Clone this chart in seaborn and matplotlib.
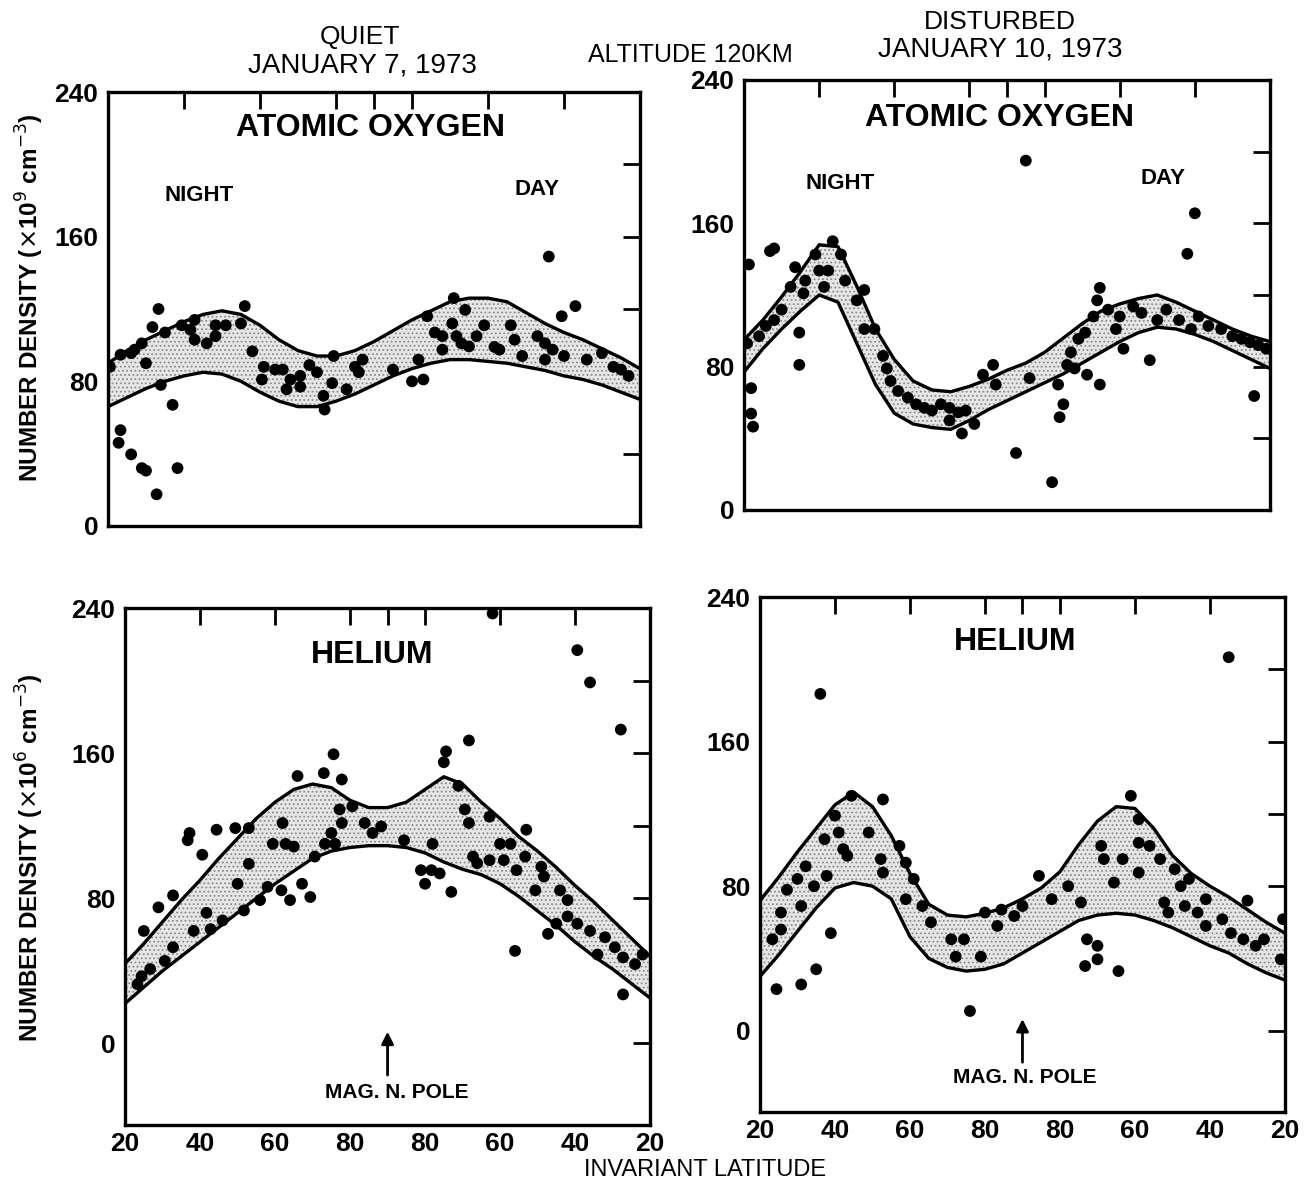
import numpy as np
import pandas as pd
import matplotlib
matplotlib.use("Agg")
import matplotlib.pyplot as plt
import seaborn as sns

# x = distance along the pass: 0 -> 20 deg (night), 70 -> magnetic pole, 140 -> 20 deg (day)
grid = np.arange(0, 145, 5)
xticks = [0, 20, 40, 60, 70, 80, 100, 120, 140]
xlabels = ["20", "40", "60", "80", "", "80", "60", "40", "20"]

# atomic oxygen, quiet day (Jan 7 1973)
oq_up = [90, 97, 103, 108, 113, 117, 119, 117, 111, 103, 97, 94, 94, 97, 102,
         108, 114, 119, 124, 126, 126, 124, 118, 112, 107, 103, 98, 93, 87]
oq_lo = [66, 71, 76, 80, 83, 85, 84, 80, 74, 69, 66, 66, 69, 73, 78,
         83, 87, 90, 92, 92, 91, 90, 88, 86, 83, 81, 78, 74, 70]
oq_s = [0.5, 3.3, 6.1, 8.9, 10, 13.3, 11.7, 15, 13.9, 17, 3.3, 2.8, 6.1, 8.9, 10, 18.3, 12.8,
        19.4, 21.7, 22.8, 26, 28.3, 28.3, 31, 36, 35, 38, 41, 40.5, 44, 46, 47, 48, 50.6, 50.6,
        53, 55, 56.7, 57, 59.4, 59, 62.8, 65, 66, 67, 75, 80, 83, 81.7, 84, 90.6, 88, 91, 94,
        91.7, 95, 99, 97, 101.7, 103, 106, 107, 109, 113, 115, 115, 117, 119.4, 123, 116, 120,
        126, 130, 133, 135, 137, 7, 22.8, 86, 88, 93]
oq_v = [88, 94.7, 95.6, 101, 90, 120, 110, 107, 78, 67, 53, 46, 39.6, 32, 30.6, 32, 17.5,
        111, 108.5, 114, 101, 105, 111, 111, 121.6, 112, 96.6, 88, 81, 86.5, 86.5, 75.6, 81, 83, 77,
        89, 85, 72, 64.4, 94, 79, 75.6, 88, 85, 92, 86.5, 80, 81, 92, 116, 112, 105, 126, 119.5,
        105, 99.3, 111, 105, 99, 97.5, 111, 103, 94, 105, 101, 92, 97.5, 116, 121.6, 149, 94,
        92, 95.6, 88, 86.5, 83, 97.5, 103, 107, 97.5, 101]

# atomic oxygen, disturbed day (Jan 10 1973)
od_up = [95, 106, 119, 133, 148, 147, 125, 101, 84, 72, 67, 66, 69, 73, 78,
         82, 88, 96, 104, 111, 115, 118, 120, 116, 111, 106, 101, 97, 94]
od_lo = [77, 90, 101, 111, 120, 116, 93, 70, 54, 48, 46, 45, 50, 56, 61,
         66, 71, 76, 82, 88, 94, 99, 102, 101, 98, 94, 89, 84, 79]
od_s = [1.3, 6.9, 8, 0.8, 1.9, 1.9, 2.4, 4, 5.8, 8, 10, 14.7, 14.7, 12.4, 13.6, 16.3, 15.8,
        19, 20, 22.4, 21.3, 23.6, 25.8, 26.9, 30, 32, 32, 34.7, 37, 38, 39, 41, 43.6, 45.8, 48,
        50, 52.4, 54.7, 57, 59, 58, 54.7, 61.3, 63.6, 66.3, 67, 72.4, 76, 75, 82, 83.6, 84, 85,
        86, 87, 88, 89, 90.8, 91.3, 94.7, 93, 94, 94.7, 96.9, 99, 100, 101, 103.6, 105.8, 108,
        110, 112.4, 115.8, 118, 120, 119, 121, 123.6, 127, 130, 132.4, 134.7, 136.9, 135.8, 139]
od_v = [137, 144.5, 146, 93, 68, 53.8, 46.5, 97, 102.7, 106, 111.8, 81, 99, 124.5, 135.5, 128, 120.9,
        142.6, 133.6, 133.6, 124.5, 150, 142.6, 128, 117, 122.8, 101, 101, 86, 79, 72, 66.4, 62.7, 59, 57,
        55.5, 59, 57, 54.5, 55.5, 42.7, 50, 48, 75.5, 81, 70, 31.8, 73.6, 195, 15.5, 70, 51.8, 59,
        81, 88, 79, 95.5, 99, 75.5, 70, 108, 117, 124, 111.8, 101, 108, 90, 113.6, 110, 83.6,
        106, 111.8, 106, 143, 165.6, 101, 108, 102.7, 101, 97, 95.5, 93.6, 92, 63.6, 90]

# helium, quiet day
hq_up = [44, 55, 67, 79, 90, 102, 113, 124, 133, 140, 143, 141, 134, 130, 130,
         133, 140, 147, 143, 133, 124, 114, 106, 97, 87, 78, 68, 58, 48]
hq_lo = [22, 31, 40, 48, 56, 64, 72, 80, 88, 95, 102, 106, 108, 109, 109,
         108, 105, 100, 96, 93, 88, 81, 73, 65, 56, 48, 41, 33, 25]
hq_s = [5, 8.9, 12.8, 16.7, 17.2, 20.6, 24.4, 29.4, 33, 33, 30, 21.7, 18.3, 22.8, 12.8, 10.6,
        6.7, 4.4, 3.3, 26, 31.7, 36, 38, 41.7, 42, 39.4, 42.8, 45, 46, 47.2, 44, 49.4, 50.6, 53,
        55.6, 57.8, 53.3, 55, 57.2, 57.8, 56, 60.6, 63.9, 66, 68.3, 74.4, 78.9, 80, 81.7, 83.9, 82,
        85, 85.6, 87, 88.9, 90.6, 91.7, 91.7, 92.8, 93.9, 97.2, 97.2, 100, 101, 102.8, 104.4, 104,
        107, 106.7, 109.4, 111, 111.7, 112.8, 115, 116, 118, 118, 120.6, 120.6, 124, 124, 126,
        128, 130.6, 132.2, 132.8, 132.8, 136, 138, 98]
hq_v = [62, 75, 81.6, 112, 116, 104, 117.8, 118.7, 118.7, 99, 88, 72, 62, 63, 53, 45.5,
        41, 37, 32.6, 67.8, 73.3, 79, 86.3, 84.4, 121.5, 110, 110, 108.5, 147.4, 88, 79, 80.7, 103, 149,
        159.4, 145.5, 110, 116, 129, 121.5, 110, 130.7, 121.5, 116, 119.6, 112, 95.5, 88, 95.5, 93.7, 110,
        155, 161, 83.5, 142, 129, 121.5, 167, 103, 99.3, 101, 125, 110, 101, 110, 95.5, 51,
        117.8, 103, 84.4, 97.4, 92, 60.4, 66, 84.4, 79, 70, 66, 216.8, 199, 62, 49,
        58.5, 53, 173, 27, 47.4, 43.7, 49, 237]

# helium, disturbed day
hd_up = [72, 85, 99, 112, 125, 132, 124, 108, 87, 70, 64, 63, 65, 68, 73,
         79, 88, 103, 116, 124, 123, 112, 97, 87, 80, 74, 67, 60, 54]
hd_lo = [30, 42, 55, 68, 79, 82, 80, 73, 52, 40, 35, 33, 34, 37, 43,
         49, 55, 61, 64, 65, 64, 61, 57, 52, 47, 43, 37, 32, 28]
hd_s = [16.1, 125, 4.4, 11, 15, 18.9, 56, 5.6, 3.3, 7.2, 10, 12.2, 14.4, 17.8, 17.2, 20, 21,
        22.2, 23.3, 24.4, 29, 32.8, 32.2, 32.8, 37.2, 38.9, 41, 38.9, 43.3, 45.6, 51, 54.4, 52.2,
        58.9, 60, 63.3, 64.4, 67.8, 70, 74.4, 77.8, 82.2, 85.6, 87.2, 90, 90, 86.7, 95.6, 91, 91.7,
        94.4, 96.7, 98.9, 101, 101, 101, 103.9, 106.7, 107.8, 108.9, 110.6, 112.2, 114.4, 113.3,
        116.7, 118.9, 118.9, 123.3, 125.6, 130, 128.9, 132.2, 134.4, 138.9, 139.5, 11, 5.6]
hd_v = [186.4, 206.7, 23, 25.6, 34, 54, 10.9, 65.4, 50.6, 78, 84, 91, 80, 85.7, 106, 119, 109.7,
        100.5, 96.8, 130, 109.7, 128, 95, 87.5, 102.3, 93, 84, 72.8, 69, 60, 50.6, 50.6, 41,
        41, 65.4, 58, 67, 63.5, 69, 85.7, 72.8, 80, 71, 50.6, 47, 39.5, 35.8, 33, 102.3, 95,
        82, 95, 130, 117, 104, 87.5, 102.3, 95, 71, 65.4, 89.4, 80, 84, 69,
        65.4, 72.8, 58, 61.7, 54, 72, 50.6, 47, 50.6, 39.5, 61.7, 69, 56]

sns.set_style("white")
plt.rcParams["font.family"] = ["Liberation Sans", "DejaVu Sans"]
plt.rcParams["text.color"] = "black"
plt.rcParams["axes.labelcolor"] = "black"
plt.rcParams["hatch.linewidth"] = 0.8

fig = plt.figure(figsize=(13.04, 11.83), dpi=100)


def panel(rect, up, lo, s, v, ymin, show_x):
    ax = fig.add_axes(rect)
    band = pd.DataFrame({"x": grid, "up": up, "lo": lo})
    pts = pd.DataFrame({"x": s, "y": v})
    ax.fill_between(band["x"], band["lo"], band["up"], facecolor="#e6e6e6",
                    hatch="....", edgecolor="#8a8a8a", linewidth=0, zorder=1)
    sns.lineplot(data=band, x="x", y="up", ax=ax, color="black", lw=2.4, zorder=3)
    sns.lineplot(data=band, x="x", y="lo", ax=ax, color="black", lw=2.4, zorder=3)
    sns.scatterplot(data=pts, x="x", y="y", ax=ax, color="black", s=72,
                    edgecolor="none", zorder=4)
    ax.set_xlim(0, 140)
    ax.set_ylim(ymin, 240)
    ax.set_xlabel("")
    ax.set_ylabel("")
    ax.set_xticks(xticks)
    ax.set_xticklabels(xlabels if show_x else [""] * len(xticks))
    yt = [0, 40, 80, 120, 160, 200, 240]
    ax.set_yticks(yt)
    ax.set_yticklabels(["0", "", "80", "", "160", "", "240"])
    ax.tick_params(direction="in", length=12, width=2, top=True, right=True,
                   labelsize=19, pad=7, colors="black")
    ax.tick_params(axis="x", pad=5)
    for lab in ax.get_xticklabels() + ax.get_yticklabels():
        lab.set_fontweight("bold")
    for sp in ax.spines.values():
        sp.set_linewidth(2.4)
        sp.set_color("black")
    return ax


ax1 = panel([0.0828, 0.5554, 0.408, 0.3668], oq_up, oq_lo, oq_s, oq_v, 0, False)
ax2 = panel([0.5706, 0.5689, 0.4033, 0.3635], od_up, od_lo, od_s, od_v, 0, False)
ax3 = panel([0.0959, 0.049, 0.4026, 0.437], hq_up, hq_lo, hq_s, hq_v, -45, True)
ax4 = panel([0.5828, 0.06, 0.4026, 0.4353], hd_up, hd_lo, hd_s, hd_v, -45, True)

big = dict(fontsize=23, fontweight="bold", ha="center", va="center")
small = dict(fontsize=16, fontweight="bold", ha="center", va="center")
ax1.text(69, 220, "ATOMIC OXYGEN", **big)
ax1.text(24, 183, "NIGHT", **small)
ax1.text(113, 186, "DAY", **small)
ax2.text(68, 219, "ATOMIC OXYGEN", **big)
ax2.text(25.5, 182, "NIGHT", **small)
ax2.text(111.5, 185, "DAY", **small)
ax3.text(66, 214, "HELIUM", **big)
ax4.text(68, 215, "HELIUM", **big)

for ax, tx, ty in [(ax3, 72.5, -27), (ax4, 70.7, -26)]:
    ax.text(tx, ty, "MAG. N. POLE", fontsize=15, fontweight="bold", ha="center", va="center")
    ax.annotate("", xy=(70, 8), xytext=(70, -19),
                arrowprops=dict(arrowstyle="-|>", color="black", lw=2, mutation_scale=18))


def ftext(px, py, txt, **kw):
    fig.text(px / 1304, 1 - py / 1183, txt, ha="center", va="center", **kw)


ftext(360, 37, "QUIET", fontsize=19)
ftext(362, 65, "JANUARY 7, 1973", fontsize=20)
ftext(690, 55, "ALTITUDE 120KM", fontsize=18)
ftext(1000, 22, "DISTURBED", fontsize=19)
ftext(1000, 50, "JANUARY 10, 1973", fontsize=20)
ftext(705, 1170, "INVARIANT LATITUDE", fontsize=17)
ftext(30, 298, r"NUMBER DENSITY ($\times$10$^9$ cm$^{-3}$)", fontsize=17.5,
      fontweight="bold", rotation=90)
ftext(30, 858, r"NUMBER DENSITY ($\times$10$^6$ cm$^{-3}$)", fontsize=17.5,
      fontweight="bold", rotation=90)

fig.savefig("out.png", dpi=100)
